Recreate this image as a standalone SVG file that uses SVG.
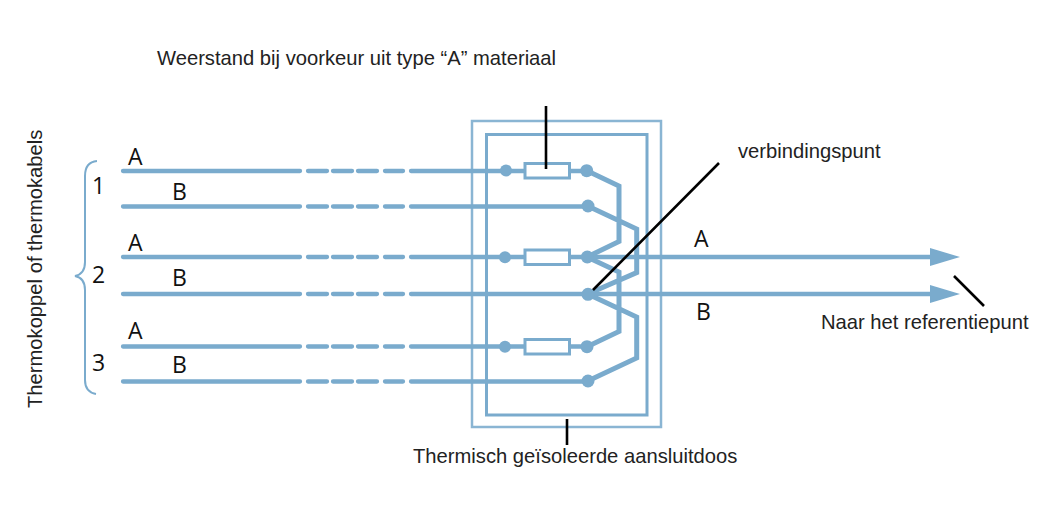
<svg xmlns="http://www.w3.org/2000/svg" width="1054" height="518" viewBox="0 0 1054 518">
<style>
text{font-family:"Liberation Sans",Arial,sans-serif;fill:#222;font-size:20.2px}
.l{font-family:"Open Sans","Liberation Sans",sans-serif;font-size:23px;fill:#111}
.w{fill:none;stroke:#7aabcd;stroke-width:4.300;stroke-linecap:round;stroke-linejoin:miter}
.t{fill:none;stroke:#7aabcd;stroke-width:5;stroke-linejoin:miter}
.b{fill:none;stroke:#7aabcd;stroke-width:3}
.c{fill:none;stroke:#7aabcd;stroke-width:2}
.n{fill:none;stroke:#8ab5d3;stroke-width:2.500}
.k{stroke:#000;stroke-width:2.600;fill:none}
.r{fill:#fff;stroke:#7aabcd;stroke-width:3}
.p{fill:#7aabcd}
</style>
<defs>
<marker id="ah" markerUnits="userSpaceOnUse" markerWidth="32" markerHeight="20" refX="20" refY="9" orient="auto"><path d="M0 0L30 9L0 18Z" fill="#7aabcd"/></marker>
</defs>
<g id="box"><rect class="n" x="472" y="121" width="189" height="306"/><rect class="b" x="486.500" y="134.500" width="160.500" height="280.500"/></g>
<g id="connectors">
<path class="w" d="M123 171H300M123 206.500H300M123 257H300M123 294H300M123 346.500H300M123 381.500H300"/>
<path class="w" d="M308 171H403M308 206.500H403M308 257H403M308 294H403M308 346.500H403M308 381.500H403" stroke-dasharray="19 6 19 6 19 8 18 8"/>
<path class="w" d="M411 171H586M411 206.500H587M411 257H587M411 294H587M411 346.500H587M411 381.500H587"/>
<path class="t" d="M587 170.700L619 186V241.500L587 257M587.700 206L636.700 229V272.500L587.700 294M587 257L619 272V331.500L587 346.700M587.700 294L636.700 317V358L587.700 381"/>
<line x1="587" y1="257" x2="950" y2="257" stroke="#7aabcd" stroke-width="4.500" marker-end="url(#ah)"/>
<line x1="587" y1="294" x2="950" y2="294" stroke="#7aabcd" stroke-width="4.500" marker-end="url(#ah)"/>
<path class="c" d="M97 161Q85 162 85 176V262Q85 274 75 276Q85 278 85 290V380Q85 392 96 394"/>
</g>
<g id="junctions" class="p">
<circle cx="506" cy="170.500" r="6"/><circle cx="586.700" cy="170.700" r="6.500"/><circle cx="588" cy="206" r="6.500"/>
<circle cx="505" cy="257.300" r="6"/><circle cx="587.300" cy="257" r="6.500"/><circle cx="588" cy="294.300" r="6.500"/>
<circle cx="505" cy="346.700" r="6"/><circle cx="587" cy="346.700" r="6.500"/><circle cx="588" cy="381" r="6.500"/>
</g>
<g id="resistor1"><rect class="r" x="525" y="163.500" width="44.500" height="14.500"/></g>
<g id="resistor2"><rect class="r" x="525" y="250" width="44.500" height="14.500"/></g>
<g id="resistor3"><rect class="r" x="525" y="339.500" width="44.500" height="14.500"/></g>
<g id="leaders">
<path class="k" d="M546 106V169M719 163L593 290M567 419V445M954 276L984 306"/>
</g>
<g id="labels">
<text x="157" y="65">Weerstand bij voorkeur uit type “A” materiaal</text>
<text x="738" y="158">verbindingspunt</text>
<text x="821" y="329">Naar het referentiepunt</text>
<text x="413" y="463">Thermisch geïsoleerde aansluitdoos</text>
<text transform="translate(41.500 408) rotate(-90)">Thermokoppel of thermokabels</text>
<text class="l" x="128" y="165">A</text><text class="l" x="172" y="200">B</text>
<text class="l" x="128" y="251">A</text><text class="l" x="172" y="286">B</text>
<text class="l" x="128" y="339">A</text><text class="l" x="172" y="373">B</text>
<text class="l" x="694" y="247">A</text><text class="l" x="696" y="320">B</text>
<text class="l" x="92" y="194">1</text><text class="l" x="92" y="283">2</text><text class="l" x="92" y="371">3</text>
</g>
</svg>
